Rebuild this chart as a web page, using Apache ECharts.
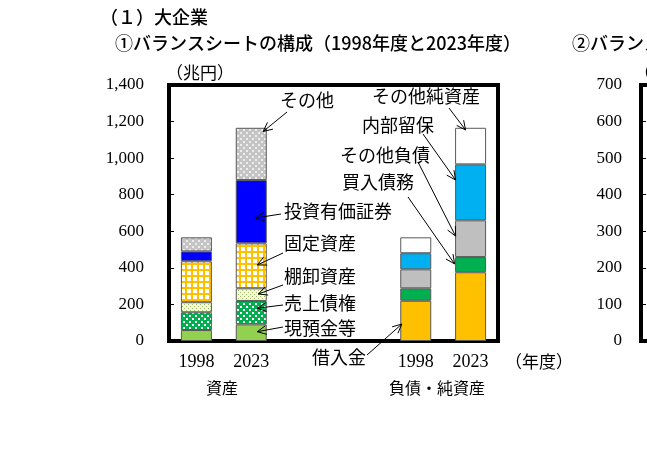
<!DOCTYPE html>
<html lang="ja">
<head>
<meta charset="utf-8">
<title>バランスシートの構成</title>
<script src="https://cdn.jsdelivr.net/npm/echarts@6/dist/echarts.min.js"></script>
<style>
  html, body { margin: 0; padding: 0; background: #fff; }
  #chart { width: 647px; height: 469px; }
</style>
</head>
<body>
<div id="chart"></div>
<script>
// カテゴリ（資産 2本、空き 2つ、負債・純資産 2本）
var categories = ['1998', '2023', '', '', '1998', '2023'];

// 資産（兆円）1998, 2023
var cash        = [60, 91];    // 現預金等
var receivables = [97, 128];   // 売上債権
var inventory   = [55, 69];    // 棚卸資産
var fixedAssets = [224, 246];  // 固定資産
var investSec   = [54, 346];   // 投資有価証券
var otherAssets = [77, 286];   // その他

// 負債・純資産（兆円）1998, 2023
var borrowings = [220, 376];   // 借入金
var payables   = [68, 83];     // 買入債務
var otherLiab  = [104, 201];   // その他負債
var retained   = [88, 306];    // 内部留保
var otherNet   = [87, 200];    // その他純資産

var yTicksLeft = [0, 1400, 200];
var yTicksRight = [0, 700, 100];

var JP = '"Noto Sans CJK JP", sans-serif';
var SERIF = '"Liberation Serif", "DejaVu Serif", serif';

// 塗りパターン
function tile(size, bg, fg, rects) {
	var c = document.createElement('canvas');
	c.width = c.height = size;
	var g = c.getContext('2d');
	g.fillStyle = bg;
	g.fillRect(0, 0, size, size);
	g.fillStyle = fg;
	rects.forEach(function (r) { g.fillRect(r[0], r[1], r[2], r[3]); });
	return { image: c, repeat: 'repeat' };
}
var patReceivables = tile(6, '#00B050', '#ffffff', [[0, 0, 2, 2], [3, 3, 2, 2]]);
var patInventory   = tile(4, '#F7F7E2', '#9DBB61', [[0, 0, 1, 1], [2, 2, 1, 1]]);
var patFixed       = tile(6, '#FFC000', '#ffffff', [[1, 1, 4, 4]]);
var patOther       = tile(6, '#C4C4C4', '#ececec', [[0, 0, 2, 2], [3, 3, 2, 2]]);

function assetData(arr) { return [arr[0], arr[1], '-', '-', '-', '-']; }
function liabData(arr) { return ['-', '-', '-', '-', arr[0], arr[1]]; }

function bar(name, data, color) {
	return {
		name: name, type: 'bar', stack: 'bs', barWidth: 31,
		xAxisIndex: 0, yAxisIndex: 0,
		data: data,
		itemStyle: { color: color, borderColor: '#595959', borderWidth: 1 },
		emphasis: { disabled: true }
	};
}

var chart = echarts.init(document.getElementById('chart'));
var option = {
	animation: false,
	grid: [
		{ left: 169, top: 85, width: 329, height: 256, show: true, borderColor: '#000', borderWidth: 4 },
		{ left: 641, top: 85, width: 300, height: 256, show: true, borderColor: '#000', borderWidth: 4 }
	],
	xAxis: [
		{
			type: 'category', gridIndex: 0, data: categories,
			axisLine: { show: false }, axisTick: { show: false },
			axisLabel: { margin: 12, color: '#000', fontFamily: SERIF, fontSize: 18 }
		},
		{ type: 'category', gridIndex: 1, data: ['a'], show: false }
	],
	yAxis: [
		{
			type: 'value', gridIndex: 0,
			min: yTicksLeft[0], max: yTicksLeft[1], interval: yTicksLeft[2],
			axisLine: { show: false },
			axisTick: { show: true, inside: true, length: 5, lineStyle: { color: '#000' } },
			splitLine: { show: false },
			axisLabel: {
				margin: 25, color: '#000', fontFamily: SERIF, fontSize: 17,
				formatter: function (v) { return v.toLocaleString('en-US'); }
			}
		},
		{
			type: 'value', gridIndex: 1,
			min: yTicksRight[0], max: yTicksRight[1], interval: yTicksRight[2],
			axisLine: { show: false },
			axisTick: { show: true, inside: true, length: 5, lineStyle: { color: '#000' } },
			splitLine: { show: false },
			axisLabel: { margin: 19, color: '#000', fontFamily: SERIF, fontSize: 17 }
		}
	],
	series: [
		bar('現預金等', assetData(cash), '#92D050'),
		bar('売上債権', assetData(receivables), patReceivables),
		bar('棚卸資産', assetData(inventory), patInventory),
		bar('固定資産', assetData(fixedAssets), patFixed),
		bar('投資有価証券', assetData(investSec), '#0000FF'),
		bar('その他', assetData(otherAssets), patOther),
		bar('借入金', liabData(borrowings), '#FFC000'),
		bar('買入債務', liabData(payables), '#00B050'),
		bar('その他負債', liabData(otherLiab), '#BFBFBF'),
		bar('内部留保', liabData(retained), '#00B0F0'),
		bar('その他純資産', liabData(otherNet), '#ffffff')
	]
};
chart.setOption(option);

// 注記（矢印）
var assetStack = [cash, receivables, inventory, fixedAssets, investSec, otherAssets];
var liabStack = [borrowings, payables, otherLiab, retained, otherNet];

function stackVal(stack, k, i, frac) {
	var base = 0;
	for (var j = 0; j < k; j++) base += stack[j][i];
	return base + frac * stack[k][i];
}

var notes = [
	{ text: 'その他',       tx: 280, ty: 100, sx: 287, sy: 112, stack: assetStack, k: 5, i: 1, cat: 1, frac: 0.93, dx: 12 },
	{ text: '投資有価証券', tx: 284, ty: 211, sx: 281, sy: 214, stack: assetStack, k: 4, i: 1, cat: 1, frac: 0.40, dx: 4 },
	{ text: '固定資産',     tx: 284, ty: 243, sx: 283, sy: 253, stack: assetStack, k: 3, i: 1, cat: 1, frac: 0.52, dx: 6 },
	{ text: '棚卸資産',     tx: 284, ty: 276, sx: 283, sy: 285, stack: assetStack, k: 2, i: 1, cat: 1, frac: 0.55, dx: 7 },
	{ text: '売上債権',     tx: 284, ty: 303, sx: 283, sy: 305, stack: assetStack, k: 1, i: 1, cat: 1, frac: 0.69, dx: 6 },
	{ text: '現預金等',     tx: 284, ty: 328, sx: 283, sy: 327, stack: assetStack, k: 0, i: 1, cat: 1, frac: 0.56, dx: 6 },
	{ text: 'その他純資産', tx: 372, ty: 96,  sx: 449, sy: 108, stack: liabStack, k: 4, i: 1, cat: 5, frac: 0.94, dx: -5 },
	{ text: '内部留保',     tx: 362, ty: 125, sx: 423, sy: 134, stack: liabStack, k: 3, i: 1, cat: 5, frac: 0.72, dx: -15 },
	{ text: 'その他負債',   tx: 340, ty: 155, sx: 418, sy: 162, stack: liabStack, k: 2, i: 1, cat: 5, frac: 0.57, dx: -15 },
	{ text: '買入債務',     tx: 342, ty: 182, sx: 408, sy: 197, stack: liabStack, k: 1, i: 1, cat: 5, frac: 0.55, dx: -16 },
	{ text: '借入金',       tx: 312, ty: 357, sx: 367, sy: 355, stack: liabStack, k: 0, i: 0, cat: 4, frac: 0.42, dx: -14 }
];

function txt(s, x, y, font, align) {
	return {
		type: 'text', x: x, y: y, z: 100, silent: true,
		style: { text: s, font: font, fill: '#000', verticalAlign: 'middle', align: align || 'left' }
	};
}

var gfx = [
	txt('（１）大企業', 100, 17, '500 18px ' + JP),
	txt('①バランスシートの構成（1998年度と2023年度）', 115, 43, '500 18px ' + JP),
	txt('②バランスシートの推移', 572, 43, '500 18px ' + JP),
	txt('（兆円）', 166, 73, '17px ' + JP),
	txt('（', 634, 73, '17px ' + JP),
	txt('（年度）', 505, 362, '17px ' + JP),
	txt('資産', 222, 388, '16px ' + JP, 'center'),
	txt('負債・純資産', 437, 388, '16px ' + JP, 'center')
];

notes.forEach(function (n) {
	var p = chart.convertToPixel({ gridIndex: 0 }, [n.cat, stackVal(n.stack, n.k, n.i, n.frac)]);
	var ex = p[0] + n.dx, ey = p[1];
	gfx.push(txt(n.text, n.tx, n.ty, '18px ' + JP));
	gfx.push({
		type: 'line', z: 100, silent: true,
		shape: { x1: n.sx, y1: n.sy, x2: ex, y2: ey },
		style: { stroke: '#000', lineWidth: 1 }
	});
	var ang = Math.atan2(n.sy - ey, n.sx - ex), len = 10, spread = 0.45;
	gfx.push({
		type: 'polyline', z: 100, silent: true,
		shape: { points: [
			[ex + len * Math.cos(ang + spread), ey + len * Math.sin(ang + spread)],
			[ex, ey],
			[ex + len * Math.cos(ang - spread), ey + len * Math.sin(ang - spread)]
		] },
		style: { stroke: '#000', fill: null, lineWidth: 1 }
	});
});

chart.setOption({ graphic: gfx });
</script>
</body>
</html>
